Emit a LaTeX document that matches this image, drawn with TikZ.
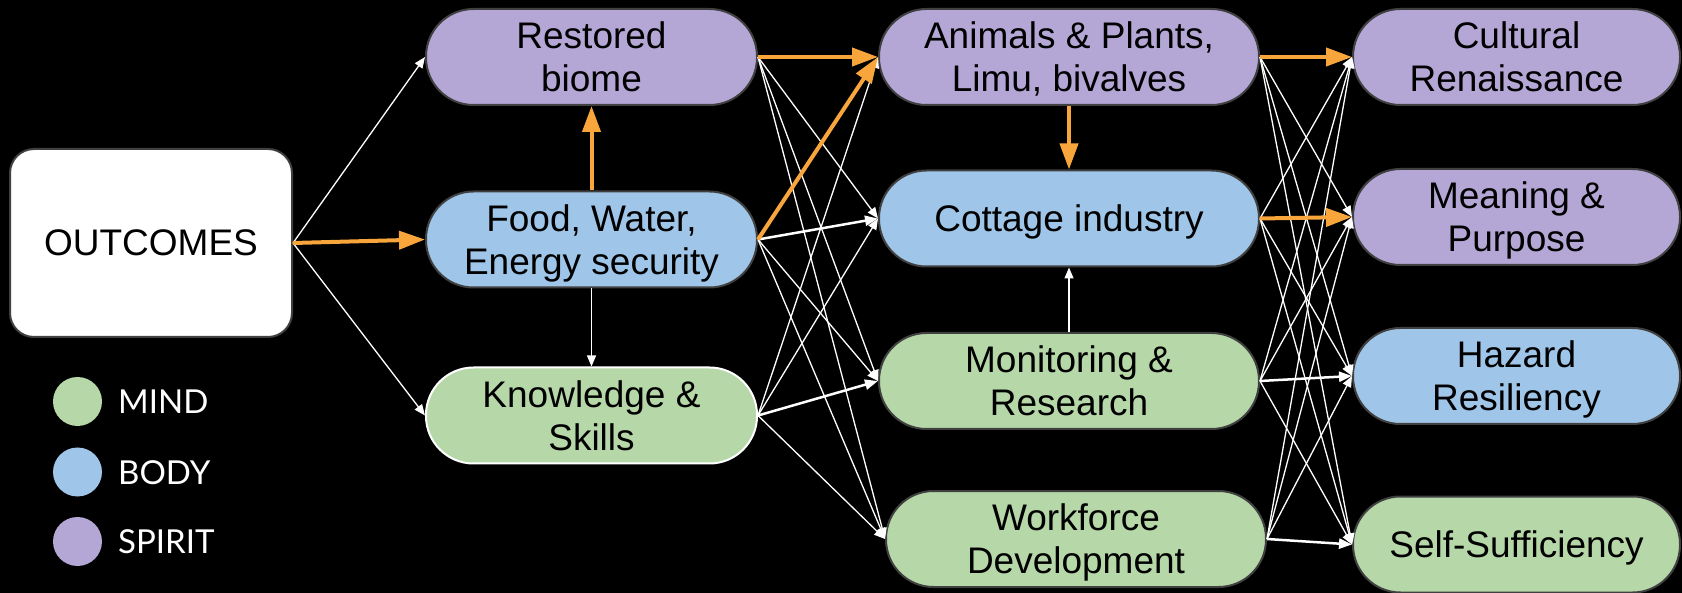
\documentclass[tikz,border=0pt]{standalone}
\usepackage{fontspec}
\setmainfont{Liberation Sans}
\newfontfamily\legendfont{Lato}
\usetikzlibrary{arrows.meta}

\definecolor{clrspirit}{HTML}{B4A7D6}
\definecolor{clrbody}{HTML}{9FC5E8}
\definecolor{clrmind}{HTML}{B6D7A8}
\definecolor{clraccent}{HTML}{F8A53C}
\definecolor{clrrim}{HTML}{404040}

\begin{document}
\begin{tikzpicture}[x=1pt,y=-1pt,
  nodetext/.style={font=\fontsize{37}{43}\selectfont, align=center, text depth=0pt},
  pill/.style={nodetext, draw=clrrim, line width=2pt, rounded corners=47.5pt,
    inner sep=0pt, minimum height=96pt},
  colA/.style={pill, minimum width=331pt},
  colB/.style={pill, minimum width=380pt},
  colC/.style={pill, minimum width=327pt},
  swatch/.style={circle, inner sep=0pt, minimum size=49pt},
  swatchlabel/.style={anchor=west, inner sep=0pt, text=white,
    font=\legendfont\fontsize{33}{33}\selectfont},
  lane/.style={-{Triangle[length=11pt,width=9pt]}, white, line width=1.3pt},
  mainlane/.style={-{Triangle[length=13pt,width=10pt]}, white, line width=2.5pt},
  hot/.style={-{Triangle[length=26pt,width=18pt]}, clraccent, line width=4pt},
]
% background and page size
\fill[black] (0,0) rectangle (1682,593);
\useasboundingbox (0,0) rectangle (1682,593);

% starting box
\node[nodetext, draw=clrrim, line width=2pt, fill=white, rounded corners=24pt,
  inner sep=0pt, minimum width=282pt, minimum height=188pt] (outcomes) at (151,243) {OUTCOMES};

% first column
\node[colA, fill=clrspirit] (biome) at (591.5,57) {Restored\\biome};
\node[colA, fill=clrbody] (food) at (591.5,239.5) {Food, Water,\\Energy security};
\node[colA, fill=clrmind, draw=white] (skills) at (591.5,415.5) {Knowledge \&\\Skills};

% second column
\node[colB, fill=clrspirit] (life) at (1069,57) {Animals \& Plants,\\Limu, bivalves};
\node[colB, fill=clrbody] (cottage) at (1069,218.5) {Cottage industry};
\node[colB, fill=clrmind] (monitor) at (1069,381) {Monitoring \&\\Research};
\node[colB, fill=clrmind] (work) at (1076,539) {Workforce\\Development};

% third column
\node[colC, fill=clrspirit] (culture) at (1516.5,57) {Cultural\\Renaissance};
\node[colC, fill=clrspirit] (meaning) at (1516.5,217) {Meaning \&\\Purpose};
\node[colC, fill=clrbody] (hazard) at (1516.5,376) {Hazard\\Resiliency};
\node[colC, fill=clrmind] (self) at (1516.5,544.5) {Self-Sufficiency};

% legend
\node[swatch, fill=clrmind] (kmind) at (77.5,401.5) {};
\node[swatch, fill=clrbody] (kbody) at (77.5,472) {};
\node[swatch, fill=clrspirit] (kspirit) at (77.5,541.5) {};
\node[swatchlabel] (lmind) at (118,402) {MIND};
\node[swatchlabel] (lbody) at (118,472.5) {BODY};
\node[swatchlabel] (lspirit) at (118,542) {SPIRIT};

% connectors: thin white
\draw[lane] (outcomes.east) -- (biome.west);
\draw[lane] (outcomes.east) -- (skills.west);
\draw[lane] (food.south) -- (skills.north);
\draw[lane] (monitor.north) -- (cottage.south);
\foreach \s/\t in {biome/cottage, biome/monitor, biome/work, food/monitor, food/work,
  skills/life, skills/cottage, skills/work,
  life/meaning, life/hazard, life/self, cottage/culture, cottage/hazard, cottage/self,
  monitor/culture, monitor/meaning, monitor/self, work/culture, work/meaning, work/hazard}
  \draw[lane] (\s.east) -- (\t.west);

% connectors: heavier white
\foreach \s/\t in {food/cottage, skills/monitor, monitor/hazard, work/self}
  \draw[mainlane] (\s.east) -- (\t.west);

% connectors: orange path
\draw[hot] (outcomes.east) -- (food.west);
\draw[hot] (food.north) -- (biome.south);
\draw[hot] (life.south) -- (cottage.north);
\foreach \s/\t in {biome/life, food/life, life/culture, cottage/meaning}
  \draw[hot] (\s.east) -- (\t.west);
\end{tikzpicture}
\end{document}
